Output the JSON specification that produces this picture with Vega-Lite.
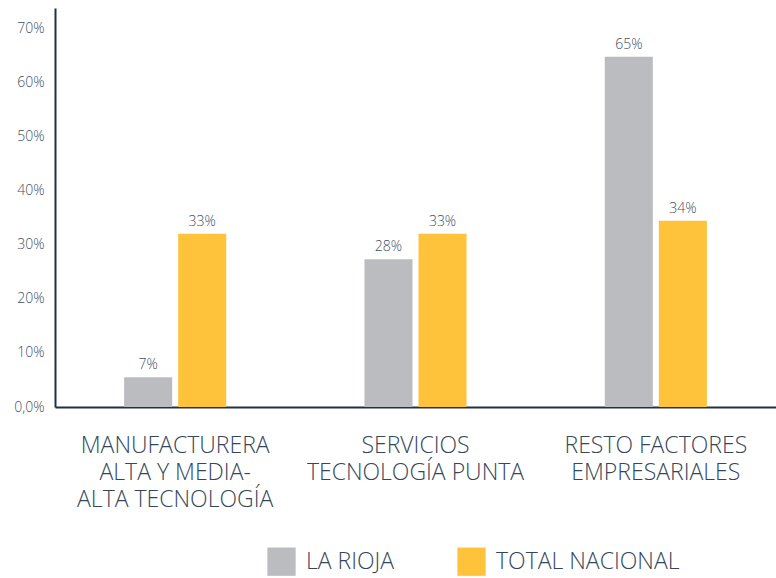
{
  "$schema": "https://vega.github.io/schema/vega-lite/v6.json",
  "width": 721,
  "height": 399,
  "padding": {"left": 55, "top": 8, "right": 0, "bottom": 171},
  "autosize": {"type": "none"},
  "background": "white",
  "config": {
    "view": {"stroke": null},
    "font": "Open Sans"
  },
  "data": {
    "values": [
      {"cat": "MANUFACTURERA|ALTA Y MEDIA-|ALTA TECNOLOGÍA", "serie": "LA RIOJA", "valor": 5.5, "etiqueta": "7%"},
      {"cat": "MANUFACTURERA|ALTA Y MEDIA-|ALTA TECNOLOGÍA", "serie": "TOTAL NACIONAL", "valor": 32, "etiqueta": "33%"},
      {"cat": "SERVICIOS|TECNOLOGÍA PUNTA", "serie": "LA RIOJA", "valor": 27.3, "etiqueta": "28%"},
      {"cat": "SERVICIOS|TECNOLOGÍA PUNTA", "serie": "TOTAL NACIONAL", "valor": 32, "etiqueta": "33%"},
      {"cat": "RESTO FACTORES|EMPRESARIALES", "serie": "LA RIOJA", "valor": 64.7, "etiqueta": "65%"},
      {"cat": "RESTO FACTORES|EMPRESARIALES", "serie": "TOTAL NACIONAL", "valor": 34.4, "etiqueta": "34%"}
    ]
  },
  "encoding": {
    "x": {
      "field": "cat",
      "type": "nominal",
      "sort": null,
      "title": null,
      "scale": {"paddingInner": 0.5, "paddingOuter": 0.25},
      "axis": {
        "labelExpr": "split(datum.label, '|')",
        "labelAngle": 0,
        "labelFontSize": 23,
        "labelFontWeight": 300,
        "labelColor": "#34475a",
        "labelLineHeight": 27,
        "labelPadding": 27,
        "labelBaseline": "top",
        "ticks": false,
        "domainColor": "#1e3246",
        "domainWidth": 2,
        "labelLimit": 300
      }
    },
    "xOffset": {
      "field": "serie",
      "type": "nominal",
      "scale": {"paddingInner": 0.111, "paddingOuter": 0.167}
    },
    "y": {
      "field": "valor",
      "type": "quantitative",
      "title": null,
      "scale": {"domain": [0, 73.7], "nice": false},
      "axis": {
        "values": [0, 10, 20, 30, 40, 50, 60, 70],
        "labelExpr": "datum.value == 0 ? '0,0%' : datum.value + '%'",
        "labelFontSize": 14,
        "labelFontWeight": 300,
        "labelColor": "#3d4f5f",
        "labelPadding": 11,
        "ticks": false,
        "grid": false,
        "domainColor": "#1e3246",
        "domainWidth": 2
      }
    }
  },
  "layer": [
    {
      "mark": {"type": "bar"},
      "encoding": {
        "color": {
          "field": "serie",
          "type": "nominal",
          "scale": {"domain": ["LA RIOJA", "TOTAL NACIONAL"], "range": ["#bbbcc0", "#fec33b"]},
          "legend": {
            "title": null,
            "orient": "none",
            "direction": "horizontal",
            "legendX": 212,
            "legendY": 539,
            "symbolType": "square",
            "symbolSize": 800,
            "symbolOpacity": 1,
            "symbolStrokeWidth": 0,
            "labelFontSize": 23,
            "labelFontWeight": 300,
            "labelColor": "#34475a",
            "labelOffset": 10,
            "labelLimit": 300,
            "columnPadding": 62,
            "symbolOffset": 0
          }
        }
      }
    },
    {
      "mark": {"type": "text", "baseline": "bottom", "dy": -5, "fontSize": 14, "fontWeight": 300, "color": "#3d4f5f"},
      "encoding": {
        "text": {"field": "etiqueta"}
      }
    }
  ]
}
